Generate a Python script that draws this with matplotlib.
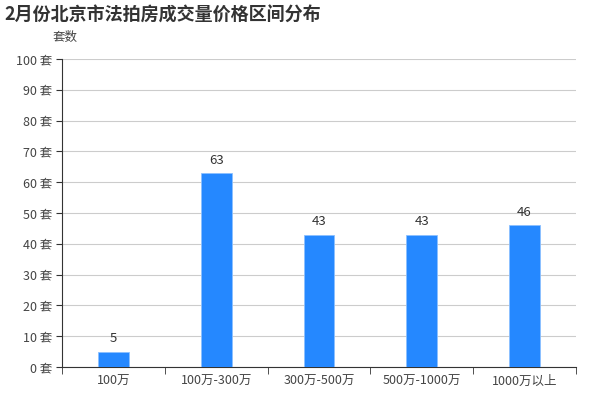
import numpy as np
import matplotlib.pyplot as plt

plt.rcParams['font.family'] = ['Noto Sans CJK SC', 'DejaVu Sans']

# 数据
categories = ['100万', '100万-300万', '300万-500万', '500万-1000万', '1000万以上']
counts = [5, 63, 43, 43, 46]
y_ticks = list(range(0, 101, 10))

fig = plt.figure(figsize=(6, 4), dpi=100)
ax = fig.add_axes([0.1033, 0.0825, 0.8567, 0.77])

x = np.arange(len(categories))
bars = ax.bar(x, counts, width=0.3, color='#2588FF', edgecolor='#8cc0ff', linewidth=0.6, zorder=3)

for xi, v in zip(x, counts):
    ax.text(xi, v + 2, str(v), ha='center', va='bottom', fontsize=9.5, color='#333333')

ax.set_xlim(-0.5, len(categories) - 0.5)
ax.set_ylim(0, 100)
ax.set_yticks(y_ticks)
ax.set_yticklabels([f'{t} 套' for t in y_ticks], fontsize=9, color='#444444')
ax.set_xticks(x)
ax.set_xticklabels(categories, fontsize=9, color='#444444')
ax.tick_params(axis='x', which='major', length=0, pad=6)
ax.set_xticks(np.arange(-0.5, len(categories)), minor=True)
ax.tick_params(axis='x', which='minor', length=5, color='#333333')
ax.tick_params(axis='y', length=4, color='#333333', pad=3)

ax.grid(axis='y', color='#cccccc', linewidth=0.8, zorder=0)
for s in ['top', 'right']:
    ax.spines[s].set_visible(False)
ax.spines['left'].set_color('#333333')
ax.spines['bottom'].set_color('#333333')

fig.text(0.008, 0.963, '2月份北京市法拍房成交量价格区间分布', fontsize=13, fontweight='bold',
         color='#333333', ha='left', va='center')
fig.text(0.087, 0.907, '套数', fontsize=9, color='#444444', ha='left', va='center')

fig.savefig('out.png', dpi=100)
